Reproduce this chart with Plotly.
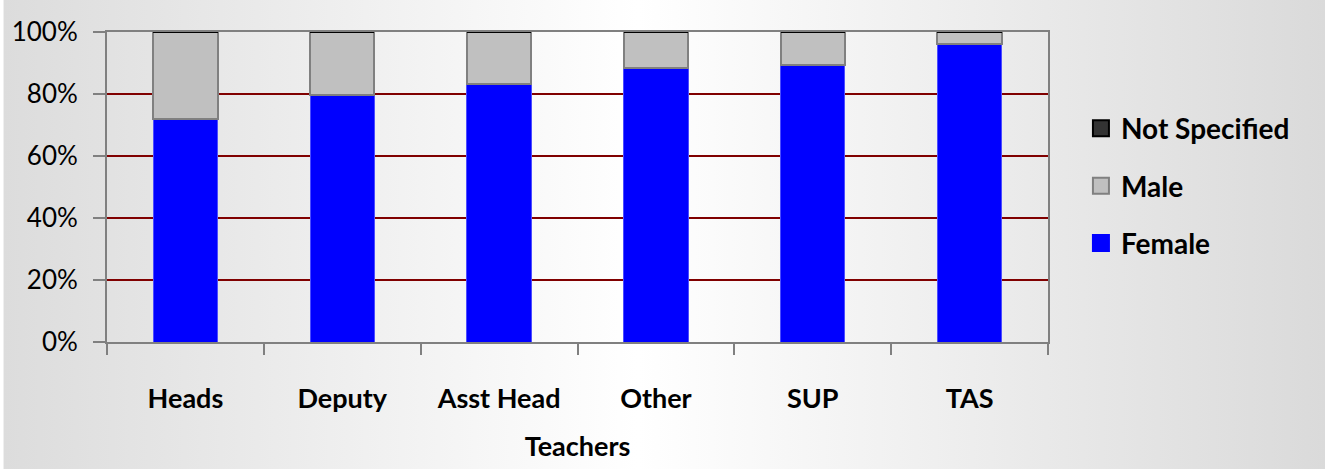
import base64
import plotly.graph_objects as go

categories = ["Heads", "Deputy", "Asst Head", "Other", "SUP", "TAS"]
female = [71.9, 79.6, 83.2, 88.4, 89.2, 96.2]
male = [28.1, 20.4, 16.8, 11.6, 10.8, 3.8]
not_specified = [0, 0, 0, 0, 0, 0]
y_ticks = [0, 20, 40, 60, 80, 100]

FONT = "Lato"

svg = (
    '<svg xmlns="http://www.w3.org/2000/svg" width="1326" height="469" preserveAspectRatio="none">'
    '<defs><linearGradient id="g" x1="0" y1="0" x2="1" y2="0">'
    '<stop offset="0" stop-color="#dcdcdc"/>'
    '<stop offset="0.48" stop-color="#ffffff"/>'
    '<stop offset="1" stop-color="#dadada"/>'
    '</linearGradient></defs>'
    '<rect width="1326" height="469" fill="url(#g)"/></svg>'
)
bg_uri = "data:image/svg+xml;base64," + base64.b64encode(svg.encode()).decode()

fig = go.Figure()

fig.add_trace(go.Bar(
    x=categories, y=female, name="Female", showlegend=False,
    marker=dict(color="#0000ff", line=dict(color="#4d4dff", width=1)),
))
fig.add_trace(go.Bar(
    x=categories, y=male, name="Male", showlegend=False,
    marker=dict(color="#c0c0c0", line=dict(color="#808080", width=2)),
))
fig.add_trace(go.Bar(
    x=categories, y=not_specified, name="Not Specified", showlegend=False,
    marker=dict(color="#333333", line=dict(color="#000000", width=2)),
))

# legend entries (larger swatches), top to bottom
for name, col, lc, grp in [("Not Specified", "#333333", "#000000", "n"),
                           ("Male", "#c0c0c0", "#808080", "m"),
                           ("Female", "#0000ff", "#0000ff", "f")]:
    fig.add_trace(go.Scatter(
        x=[None], y=[None], mode="markers", name=name, legendgroup=grp,
        marker=dict(symbol="square", size=16, color=col, line=dict(color=lc, width=2)),
    ))

fig.update_layout(
    width=1326, height=469,
    margin=dict(l=104, r=278, t=32, b=127),
    barmode="stack",
    bargap=0.59,
    paper_bgcolor="rgba(0,0,0,0)",
    plot_bgcolor="rgba(0,0,0,0)",
    font=dict(family=FONT, color="#000000", size=20),
    images=[dict(source=bg_uri, xref="paper", yref="paper", x=-104 / 944, y=1 + 32 / 310,
                 sizex=1326 / 944, sizey=469 / 310, sizing="stretch",
                 xanchor="left", yanchor="top", layer="below")],
    legend=dict(
        x=1.035, y=0.503, xanchor="left", yanchor="middle",
        traceorder="grouped", tracegroupgap=18,
        font=dict(family=FONT, size=28, color="#000000", weight="bold"),
        bgcolor="rgba(0,0,0,0)",
    ),
    showlegend=True,
)

fig.update_xaxes(
    showline=True, linecolor="#808080", linewidth=2, mirror=True,
    ticks="outside", tickson="boundaries", ticklen=11, tickwidth=2, tickcolor="#808080",
    tickfont=dict(family=FONT, size=27, weight="bold"),
    ticklabelstandoff=32,
    title=dict(text="Teachers", font=dict(family=FONT, size=27, weight="bold"), standoff=24),
    showgrid=False,
)
fig.update_yaxes(
    range=[0, 100], tickvals=y_ticks, ticktext=[f"{v}%" for v in y_ticks],
    showline=True, linecolor="#808080", linewidth=2, mirror=True,
    ticks="outside", ticklen=12, tickwidth=2, tickcolor="#808080",
    tickfont=dict(family=FONT, size=26),
    ticklabelstandoff=10,
    showgrid=True, gridcolor="#800000", gridwidth=2, zeroline=False,
)

fig.write_html("out.html", config={"displayModeBar": False},
               post_script="document.body.style.margin='0';document.body.style.padding='0';")
